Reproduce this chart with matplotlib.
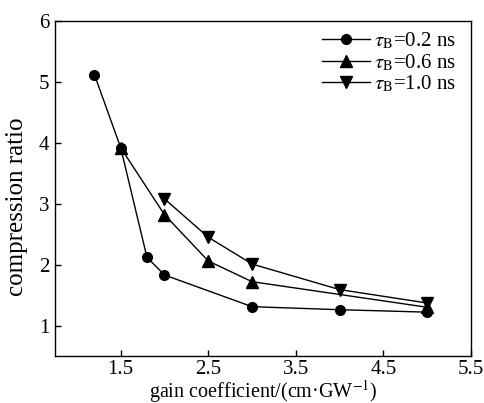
import matplotlib
matplotlib.use("Agg")
import matplotlib.pyplot as plt

plt.rcParams["font.family"] = ["Liberation Serif", "DejaVu Serif"]
plt.rcParams["mathtext.fontset"] = "stix"

# compression ratio vs gain coefficient for three pulse widths
gain_02 = [1.2, 1.5, 1.8, 2.0, 3.0, 4.0, 5.0]
ratio_02 = [5.12, 3.92, 2.12, 1.83, 1.31, 1.26, 1.22]

gain_06 = [1.5, 2.0, 2.5, 3.0, 5.0]
ratio_06 = [3.92, 2.82, 2.06, 1.72, 1.30]

gain_10 = [2.0, 2.5, 3.0, 4.0, 5.0]
ratio_10 = [3.08, 2.45, 2.01, 1.59, 1.37]

labels = [r"$\tau_{\rm B}$=0.2 ns", r"$\tau_{\rm B}$=0.6 ns", r"$\tau_{\rm B}$=1.0 ns"]
x_ticks = [1.5, 2.5, 3.5, 4.5, 5.5]
y_ticks = [1, 2, 3, 4, 5, 6]

fig = plt.figure(figsize=(4.85, 4.03), dpi=100)
ax = fig.add_axes([55 / 485, 47 / 403, 416 / 485, 335 / 403])

ax.plot(gain_02, ratio_02, "-o", color="black", lw=1, ms=7, label=labels[0])
ax.plot(gain_06, ratio_06, "-^", color="black", lw=1, ms=8, label=labels[1])
ax.plot(gain_10, ratio_10, "-v", color="black", lw=1, ms=8, label=labels[2])

ax.set_xlim(0.75, 5.5)
ax.set_ylim(0.5, 6)
ax.set_xticks(x_ticks)
ax.set_xticklabels([f"{t:.1f}" for t in x_ticks])
ax.set_yticks(y_ticks)
ax.tick_params(direction="in", length=4, width=1, labelsize=15, pad=4)
ax.tick_params(axis="x", pad=3)
for spine in ax.spines.values():
    spine.set_linewidth(1)

ax.set_xlabel("gain coefficient/(cm·GW$^{-1}$)", fontsize=14.5, labelpad=-1)
ax.set_ylabel("compression ratio", fontsize=18)
ax.yaxis.set_label_coords(-0.065, 0.445)

ax.legend(
    loc="upper right",
    bbox_to_anchor=(1.0, 1.015),
    frameon=False,
    fontsize=15,
    handlelength=2.3,
    handletextpad=0.2,
    labelspacing=0.05,
    borderaxespad=0.3,
)

fig.savefig("out.png", dpi=100)
